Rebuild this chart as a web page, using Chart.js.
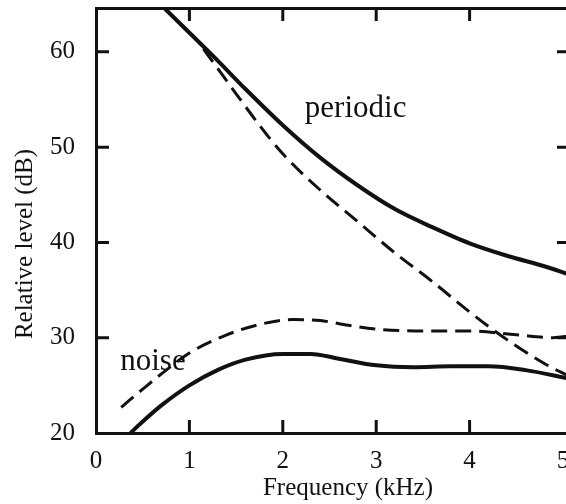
<!DOCTYPE html>
<html lang="en">
<head>
<meta charset="UTF-8">
<title>Relative level vs frequency</title>
<script src="https://cdn.jsdelivr.net/npm/chart.js"></script>
<style>
    body {
        margin: 0;
        background: #fff;
        overflow: hidden;
    }
    .wrap {
        width: 575px;
        height: 504px;
    }
</style>
</head>
<body>
<div class="wrap"><canvas id="levels"></canvas></div>

<script>
    // Frequency in kHz, level in dB
    const periodicFreq  = [0.73, 1.0, 1.3, 1.6, 2.0, 2.4, 2.8, 3.2, 3.6, 4.0, 4.4, 4.8, 5.075];
    const periodicLevel = [64.6, 62.0, 59.1, 56.1, 52.3, 48.9, 46.0, 43.5, 41.6, 39.9, 38.6, 37.5, 36.6];

    const periodicDashFreq  = [1.15, 1.3, 1.5, 1.75, 2.0, 2.4, 2.8, 3.2, 3.6, 4.0, 4.4, 4.8, 5.075];
    const periodicDashLevel = [60.3, 58.3, 55.6, 52.3, 49.3, 45.5, 42.2, 38.9, 35.9, 32.7, 29.8, 27.3, 25.9];

    const noiseFreq  = [0.37, 0.5, 0.7, 1.0, 1.3, 1.6, 2.0, 2.3, 2.6, 3.0, 3.4, 3.8, 4.2, 4.6, 5.075];
    const noiseLevel = [20.0, 21.2, 22.9, 25.0, 26.6, 27.7, 28.3, 28.3, 27.8, 27.1, 26.9, 27.0, 27.0, 26.6, 25.7];

    const noiseDashFreq  = [0.27, 0.5, 0.7, 1.0, 1.4, 1.8, 2.1, 2.4, 2.7, 3.0, 3.5, 4.0, 4.5, 4.9, 5.075];
    const noiseDashLevel = [22.7, 24.6, 26.2, 28.4, 30.3, 31.5, 31.9, 31.8, 31.3, 30.9, 30.7, 30.7, 30.3, 30.0, 30.2];

    const xTickValues = [0, 1, 2, 3, 4, 5];
    const yTickValues = [20, 30, 40, 50, 60];
    const xMarkValues = [1, 2, 3, 4];
    const yMarkValues = [30, 40, 50, 60];

    const curveLabels = [
        { text: 'periodic', x: 2.78, y: 53.2 },
        { text: 'noise', x: 0.61, y: 26.6 }
    ];

    const ink = '#111';
    const serif = "'Liberation Serif', 'Times New Roman', serif";

    function toPoints(xs, ys) {
        return xs.map((v, i) => ({ x: v, y: ys[i] }));
    }

    function curve(xs, ys, dashed) {
        return {
            data: toPoints(xs, ys),
            borderColor: ink,
            borderWidth: dashed ? 3 : 4,
            borderDash: dashed ? [16, 8] : [],
            pointRadius: 0,
            cubicInterpolationMode: 'monotone',
            fill: false
        };
    }

    // fixed axis sizes, no extra room for overhanging labels
    function fixSize(side, size) {
        return s => {
            s[side] = size;
            s.paddingTop = s.paddingBottom = s.paddingLeft = s.paddingRight = 0;
        };
    }

    // tick marks pointing into the plot on all four sides
    const innerTicks = {
        id: 'innerTicks',
        afterDraw(chart) {
            const { ctx, chartArea: a, scales: { x, y } } = chart;
            const len = 13;
            ctx.save();
            ctx.strokeStyle = ink;
            ctx.lineWidth = 3;
            ctx.beginPath();
            xMarkValues.forEach(v => {
                const px = x.getPixelForValue(v);
                ctx.moveTo(px, a.bottom);
                ctx.lineTo(px, a.bottom - len);
                ctx.moveTo(px, a.top);
                ctx.lineTo(px, a.top + len);
            });
            yMarkValues.forEach(v => {
                const py = y.getPixelForValue(v);
                ctx.moveTo(a.left, py);
                ctx.lineTo(a.left + len, py);
                ctx.moveTo(a.right, py);
                ctx.lineTo(a.right - len, py);
            });
            ctx.stroke();
            ctx.restore();
        }
    };

    // curve names and axis titles
    const textLabels = {
        id: 'textLabels',
        afterDraw(chart) {
            const { ctx, chartArea: a, scales: { x, y } } = chart;
            ctx.save();
            ctx.fillStyle = ink;
            ctx.textBaseline = 'alphabetic';
            ctx.textAlign = 'center';

            ctx.font = '31px ' + serif;
            curveLabels.forEach(l => {
                ctx.fillText(l.text, x.getPixelForValue(l.x), y.getPixelForValue(l.y));
            });

            ctx.font = '25px ' + serif;
            ctx.fillText('Frequency (kHz)', a.left + 252, 495);

            ctx.translate(32, 244);
            ctx.rotate(-Math.PI / 2);
            ctx.fillText('Relative level (dB)', 0, 0);
            ctx.restore();
        }
    };

    const frame = { display: true, color: ink, width: 3 };

    new Chart(document.getElementById('levels'), {
        type: 'line',
        data: {
            datasets: [
                curve(periodicFreq, periodicLevel, false),
                curve(periodicDashFreq, periodicDashLevel, true),
                curve(noiseFreq, noiseLevel, false),
                curve(noiseDashFreq, noiseDashLevel, true)
            ]
        },
        options: {
            responsive: true,
            maintainAspectRatio: false,
            animation: false,
            layout: { padding: 0 },
            plugins: {
                legend: { display: false },
                tooltip: { enabled: false }
            },
            scales: {
                x: {
                    type: 'linear',
                    position: 'bottom',
                    min: 0,
                    max: 5.075,
                    afterBuildTicks: s => { s.ticks = xTickValues.map(v => ({ value: v })); },
                    afterFit: fixSize('height', 71),
                    grid: { display: false },
                    border: frame,
                    ticks: {
                        color: ink,
                        font: { family: serif, size: 25 },
                        padding: 5,
                        maxRotation: 0,
                        autoSkip: false
                    }
                },
                x2: {
                    type: 'linear',
                    position: 'top',
                    min: 0,
                    max: 5.075,
                    afterFit: fixSize('height', 8),
                    grid: { display: false },
                    border: frame,
                    ticks: { display: false }
                },
                y: {
                    type: 'linear',
                    position: 'left',
                    min: 20,
                    max: 64.6,
                    afterBuildTicks: s => { s.ticks = yTickValues.map(v => ({ value: v })); },
                    afterFit: fixSize('width', 96),
                    grid: { display: false },
                    border: frame,
                    ticks: {
                        color: ink,
                        font: { family: serif, size: 25 },
                        padding: 13
                    }
                },
                y2: {
                    type: 'linear',
                    position: 'right',
                    min: 20,
                    max: 64.6,
                    afterFit: fixSize('width', 5),
                    grid: { display: false },
                    border: frame,
                    ticks: { display: false }
                }
            }
        },
        plugins: [innerTicks, textLabels]
    });
</script>
</body>
</html>
